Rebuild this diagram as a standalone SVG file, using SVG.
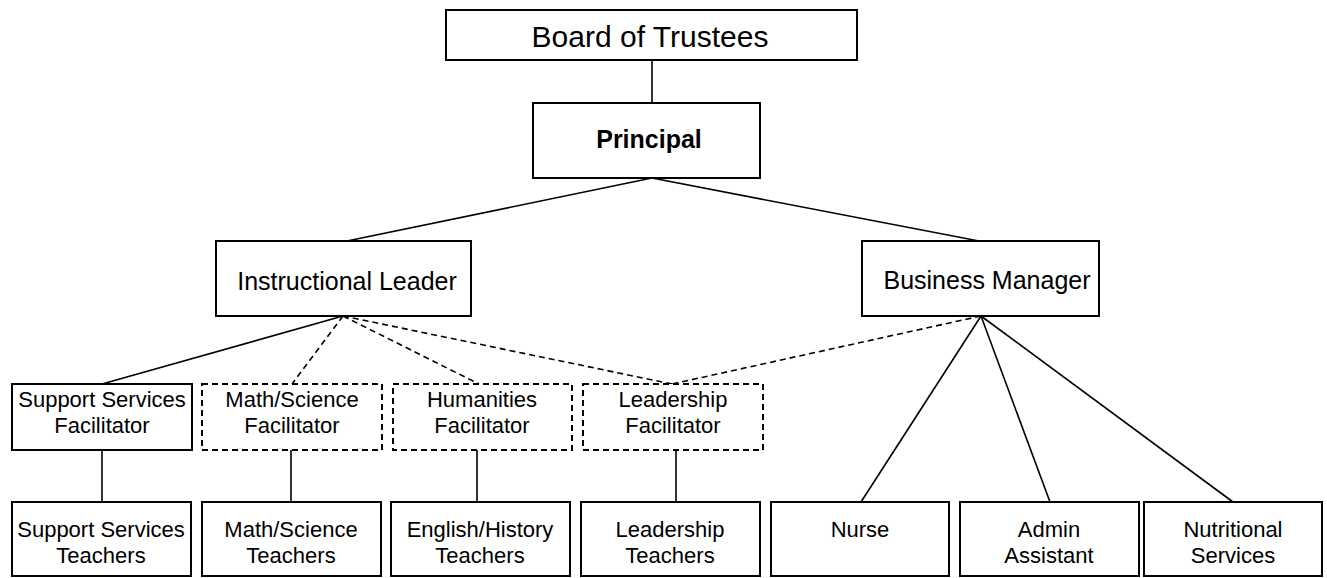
<svg xmlns="http://www.w3.org/2000/svg" width="1327" height="578" viewBox="0 0 1327 578">
<style>
.box{fill:#fff;stroke:#000;stroke-width:2}
.dbox{fill:#fff;stroke:#000;stroke-width:2;stroke-dasharray:6,4}
.ln{stroke:#000;stroke-width:1.6;fill:none}
.dl{stroke:#000;stroke-width:1.6;fill:none;stroke-dasharray:6,4}
text{font-family:"Liberation Sans",Arial,sans-serif;fill:#000;text-anchor:middle}
.t22{font-size:22px}
.t25{font-size:25px}
</style>
<rect width="1327" height="578" fill="#fff"/>
<g id="connectors">
<line class="ln" x1="652" y1="60" x2="652" y2="103"/>
<line class="ln" x1="652" y1="178" x2="347" y2="241"/>
<line class="ln" x1="652" y1="178" x2="979" y2="241"/>
<line class="ln" x1="343" y1="316" x2="102" y2="384"/>
<line class="dl" x1="343" y1="316" x2="292" y2="384"/>
<line class="dl" x1="343" y1="316" x2="479" y2="384"/>
<line class="dl" x1="343" y1="316" x2="672" y2="384"/>
<line class="dl" x1="981" y1="316" x2="672" y2="384"/>
<line class="ln" x1="981" y1="316" x2="861" y2="502"/>
<line class="ln" x1="981" y1="316" x2="1050" y2="502"/>
<line class="ln" x1="981" y1="316" x2="1233" y2="502"/>
<line class="ln" x1="102" y1="450" x2="102" y2="502"/>
<line class="ln" x1="291" y1="450" x2="291" y2="502"/>
<line class="ln" x1="477" y1="450" x2="477" y2="502"/>
<line class="ln" x1="676" y1="450" x2="676" y2="502"/>
</g>
<g id="board"><rect class="box" x="446" y="10" width="411" height="50"/><text x="650" y="47" font-size="30">Board of Trustees</text></g>
<g id="principal"><rect class="box" x="533" y="103" width="227" height="75"/><text x="649" y="148" font-size="25" font-weight="bold">Principal</text></g>
<g id="instructional-leader"><rect class="box" x="216" y="241" width="255" height="75"/><text class="t25" x="347" y="290">Instructional Leader</text></g>
<g id="business-manager"><rect class="box" x="862" y="241" width="237" height="75"/><text class="t25" x="987" y="289">Business Manager</text></g>
<g id="support-facilitator"><rect class="box" x="12" y="384" width="180" height="66"/><text class="t22" x="102" y="407">Support Services</text><text class="t22" x="102" y="433">Facilitator</text></g>
<g id="math-facilitator"><rect class="dbox" x="202" y="384" width="180" height="66"/><text class="t22" x="292" y="407">Math/Science</text><text class="t22" x="292" y="433">Facilitator</text></g>
<g id="humanities-facilitator"><rect class="dbox" x="393" y="384" width="179" height="66"/><text class="t22" x="482" y="407">Humanities</text><text class="t22" x="482" y="433">Facilitator</text></g>
<g id="leadership-facilitator"><rect class="dbox" x="583" y="384" width="180" height="66"/><text class="t22" x="673" y="407">Leadership</text><text class="t22" x="673" y="433">Facilitator</text></g>
<g id="support-teachers"><rect class="box" x="12" y="502" width="179" height="74"/><text class="t22" x="101" y="537">Support Services</text><text class="t22" x="101" y="563">Teachers</text></g>
<g id="math-teachers"><rect class="box" x="202" y="502" width="179" height="74"/><text class="t22" x="291" y="537">Math/Science</text><text class="t22" x="291" y="563">Teachers</text></g>
<g id="english-teachers"><rect class="box" x="391" y="502" width="179" height="74"/><text class="t22" x="480" y="537">English/History</text><text class="t22" x="480" y="563">Teachers</text></g>
<g id="leadership-teachers"><rect class="box" x="581" y="502" width="179" height="74"/><text class="t22" x="670" y="537">Leadership</text><text class="t22" x="670" y="563">Teachers</text></g>
<g id="nurse"><rect class="box" x="771" y="502" width="178" height="74"/><text class="t22" x="860" y="537">Nurse</text></g>
<g id="admin-assistant"><rect class="box" x="960" y="502" width="179" height="74"/><text class="t22" x="1049" y="537">Admin</text><text class="t22" x="1049" y="563">Assistant</text></g>
<g id="nutritional-services"><rect class="box" x="1144" y="502" width="178" height="74"/><text class="t22" x="1233" y="537">Nutritional</text><text class="t22" x="1233" y="563">Services</text></g>
</svg>
